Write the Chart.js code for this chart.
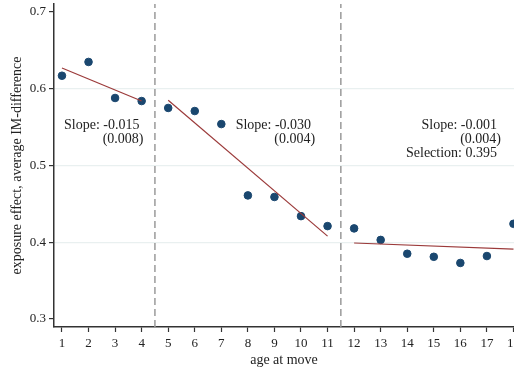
<!DOCTYPE html>
<html>
<head>
<meta charset="utf-8">
<script src="https://cdn.jsdelivr.net/npm/chart.js@4/dist/chart.umd.min.js"></script>
<style>
  html, body { margin: 0; padding: 0; background: #fff; }
  #wrap { width: 514px; height: 369px; }
</style>
</head>
<body>
<div id="wrap"><canvas id="chart"></canvas></div>
<script>
// age at move and binned exposure effect
const ages = [1, 2, 3, 4, 5, 6, 7, 8, 9, 10, 11, 12, 13, 14, 15, 16, 17, 18];
const effects = [0.617, 0.635, 0.588, 0.584, 0.575, 0.571, 0.554, 0.461, 0.459,
  0.434, 0.421, 0.418, 0.403, 0.385, 0.381, 0.373, 0.382, 0.424];

// fitted lines per age group
const fitEarlyX = [1, 4];
const fitEarlyY = [0.627, 0.584];
const fitMidX = [5, 11];
const fitMidY = [0.585, 0.408];
const fitLateX = [12, 18];
const fitLateY = [0.399, 0.391];

// cutoffs between groups
const cutoffs = [4.5, 11.5];

const yTicks = [0.3, 0.4, 0.5, 0.6, 0.7];
const yGrid = [0.4, 0.5, 0.6];
const yMin = 0.2895;
const yMax = 0.7105;

// text boxes: anchor (right edge) in data units
const notes = [
  { x: 3.92, y: 0.553, lines: ["Slope: -0.015", "(0.008)"] },
  { x: 10.38, y: 0.553, lines: ["Slope: -0.030", "(0.004)"] },
  { x: 17.38, y: 0.553, lines: ["Slope: -0.001", "(0.004)", "Selection: 0.395"] },
];

const serif = "'Liberation Serif', 'DejaVu Serif', serif";
const navy = "#1a476f";
const maroon = "#9b3a3a";

const toPoints = (xs, ys) => xs.map((x, i) => ({ x: x, y: ys[i] }));

const lineSet = (xs, ys) => ({
  type: "line",
  data: toPoints(xs, ys),
  borderColor: maroon,
  borderWidth: 1.2,
  pointRadius: 0,
  fill: false,
});

const cutoffSets = cutoffs.map((c) => ({
  type: "line",
  data: [{ x: c, y: yMin }, { x: c, y: yMax }],
  borderColor: "#9a9a9a",
  borderWidth: 1.5,
  borderDash: [7, 4],
  pointRadius: 0,
  fill: false,
}));

// Draw the slope notes
const notesPlugin = {
  id: "notes",
  afterDatasetsDraw(chart) {
    const ctx = chart.ctx;
    const xs = chart.scales.x;
    const ys = chart.scales.y;
    ctx.save();
    ctx.font = "14px " + serif;
    ctx.fillStyle = "#222";
    ctx.textBaseline = "middle";
    ctx.textAlign = "right";
    notes.forEach((n) => {
      const px = xs.getPixelForValue(n.x);
      const py = ys.getPixelForValue(n.y);
      n.lines.forEach((t, i) => {
        const off = t.startsWith("(") ? 4 : 0;
        ctx.fillText(t, px + off, py + i * 14);
      });
    });
    ctx.restore();
  },
};

// no extra room for edge tick labels
const noEdgePadding = (s) => {
  s.paddingLeft = 0;
  s.paddingRight = 0;
  s.paddingTop = 0;
  s.paddingBottom = 0;
};

new Chart(document.getElementById("chart"), {
  type: "scatter",
  data: {
    datasets: [
      ...cutoffSets,
      lineSet(fitEarlyX, fitEarlyY),
      lineSet(fitMidX, fitMidY),
      lineSet(fitLateX, fitLateY),
      {
        type: "scatter",
        data: toPoints(ages, effects),
        backgroundColor: navy,
        borderColor: navy,
        pointRadius: 3.8,
        clip: false,
      },
    ],
  },
  options: {
    responsive: true,
    maintainAspectRatio: false,
    animation: false,
    layout: { autoPadding: false, padding: { top: 4, right: 0, left: 0, bottom: 0 } },
    plugins: { legend: { display: false }, tooltip: { enabled: false } },
    scales: {
      x: {
        type: "linear",
        min: 0.7,
        max: 18.02,
        afterBuildTicks: (s) => { s.ticks = ages.map((v) => ({ value: v })); },
        afterFit: (s) => { s.height = 42; noEdgePadding(s); },
        border: { color: "#333", width: 1.5 },
        grid: { drawOnChartArea: false, tickLength: 5, tickColor: "#333", tickWidth: 1.2 },
        ticks: {
          color: "#222",
          font: { family: serif, size: 13 },
          padding: 4,
          maxRotation: 0,
          autoSkip: false,
        },
        title: {
          display: true,
          text: "age at move",
          color: "#222",
          font: { family: serif, size: 14 },
          padding: { top: 0, bottom: 0 },
        },
      },
      y: {
        min: yMin,
        max: yMax,
        afterBuildTicks: (s) => { s.ticks = yTicks.map((v) => ({ value: v })); },
        afterFit: (s) => { s.width = 54; noEdgePadding(s); },
        border: { color: "#333", width: 1.5 },
        grid: {
          color: (c) => (c.tick && yGrid.some((g) => Math.abs(g - c.tick.value) < 1e-6) ? "#e9f0f0" : "rgba(0,0,0,0)"),
          lineWidth: 1.2,
          tickLength: 5,
          tickColor: "#333",
          tickWidth: 1.2,
        },
        ticks: {
          color: "#222",
          font: { family: serif, size: 13 },
          padding: 3,
          callback: (v) => v.toFixed(1),
        },
        title: {
          display: true,
          text: "exposure effect, average IM-difference",
          color: "#222",
          font: { family: serif, size: 14 },
          padding: { top: 9, bottom: 0 },
        },
      },
    },
  },
  plugins: [notesPlugin],
});
</script>
</body>
</html>
